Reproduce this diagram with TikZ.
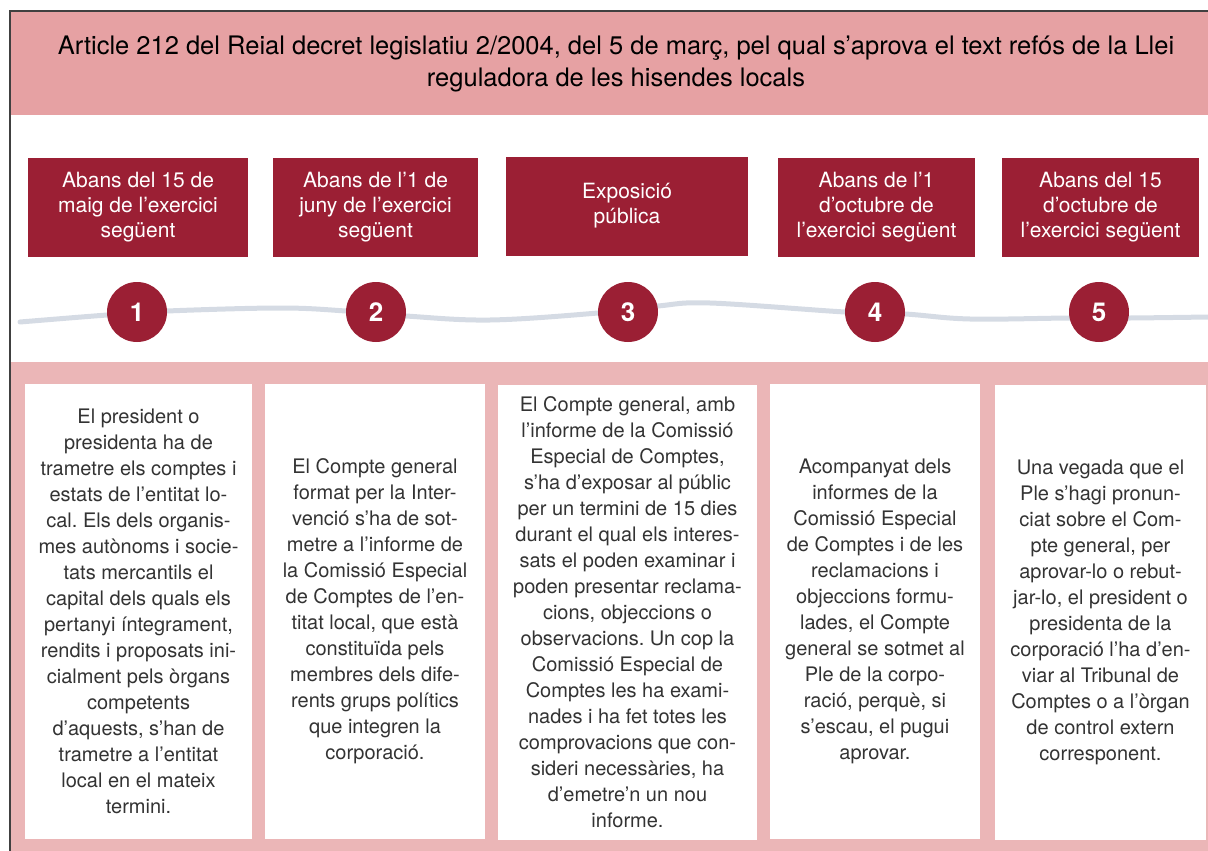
\documentclass[tikz,border=0pt]{standalone}
\usepackage{fontspec}
\setmainfont{TeX Gyre Heros}
\usepackage{tikz}
\frenchspacing
\definecolor{headpink}{HTML}{E6A1A3}
\definecolor{bandpink}{HTML}{EBB6B7}
\definecolor{wine}{HTML}{9B1F34}
\definecolor{wave}{HTML}{D5DBE4}
\definecolor{txt}{HTML}{333333}
\tikzset{
	datebox/.style={fill=wine, text=white, inner sep=0, minimum height=99, align=center, font=\fontsize{21}{25}\selectfont},
	stepdot/.style={circle, fill=wine, text=white, inner sep=0, minimum size=60, font=\fontsize{26}{26}\selectfont\bfseries},
	textbox/.style={fill=white, text=txt, inner sep=0, minimum height=455, align=center, font=\fontsize{20}{26}\selectfont}
}

\begin{document}
\begin{tikzpicture}[x=1pt, y=-1pt]
			%%%%% START %%%%%
			\useasboundingbox (0, 0) rectangle (1208, 851);
			
			\fill[headpink] (11, 12) rectangle (1208, 115);
			\fill[bandpink] (11, 362) rectangle (1208, 851);
			\draw[line width=1.5, black!75] (10, 851) -- (10, 11) -- (1208, 11);
			
			\node[align=center, font=\fontsize{25.5}{32}\selectfont] (title) at (616, 64) {Article 212 del Reial decret legislatiu 2/2004, del 5 de març, pel qual s’aprova el text refós de la Llei\\reguladora de les hisendes locals};
			
			% dates
			\node[datebox, minimum width=220] (d1) at (138, 207.5) {Abans del 15 de\\maig de l’exercici\\següent};
			\node[datebox, minimum width=205] (d2) at (375.5, 207.5) {Abans de l’1 de\\juny de l’exercici\\següent};
			\node[datebox, minimum width=242] (d3) at (627, 206) {Exposició\\pública};
			\node[datebox, minimum width=197] (d4) at (876.5, 207.5) {Abans de l’1\\d’octubre de\\l’exercici següent};
			\node[datebox, minimum width=197] (d5) at (1100.5, 207.5) {Abans del 15\\d’octubre de\\l’exercici següent};
			
			% time line
			\draw[wave, line width=5, line cap=round] plot[smooth, tension=0.6] coordinates {(20, 322) (107, 315) (167, 311) (280, 308) (346, 311) (406, 316) (490, 320) (598, 313) (658, 306) (710, 303) (845, 312) (905, 314) (970, 319) (1070, 318) (1130, 318) (1208, 317)};
			
			\node[stepdot] (c1) at (137, 312) {1};
			\node[stepdot] (c2) at (376, 312) {2};
			\node[stepdot] (c3) at (628, 312) {3};
			\node[stepdot] (c4) at (875, 312) {4};
			\node[stepdot] (c5) at (1099, 312) {5};
			
			% texts
			\node[textbox, minimum width=227] (t1) at (138.5, 611.5) {El president o\\presidenta ha de\\trametre els comptes i\\estats de l’entitat lo-\\cal. Els dels organis-\\mes autònoms i socie-\\tats mercantils el\\capital dels quals els\\pertanyi íntegrament,\\rendits i proposats ini-\\cialment pels òrgans\\competents\\d’aquests, s’han de\\trametre a l’entitat\\local en el mateix\\termini.};
			\node[textbox, minimum width=220] (t2) at (375, 611.5) {El Compte general\\format per la Inter-\\venció s’ha de sot-\\metre a l’informe de\\la Comissió Especial\\de Comptes de l’en-\\titat local, que està\\constituïda pels\\membres dels dife-\\rents grups polítics\\que integren la\\corporació.};
			\node[textbox, minimum width=259] (t3) at (627.5, 612.5) {El Compte general, amb\\l’informe de la Comissió\\Especial de Comptes,\\s’ha d’exposar al públic\\per un termini de 15 dies\\durant el qual els interes-\\sats el poden examinar i\\poden presentar reclama-\\cions, objeccions o\\observacions. Un cop la\\Comissió Especial de\\Comptes les ha exami-\\nades i ha fet totes les\\comprovacions que con-\\sideri necessàries, ha\\d’emetre’n un nou\\informe.};
			\node[textbox, minimum width=210] (t4) at (875, 611) {Acompanyat dels\\informes de la\\Comissió Especial\\de Comptes i de les\\reclamacions i\\objeccions formu-\\lades, el Compte\\general se sotmet al\\Ple de la corpo-\\ració, perquè, si\\s’escau, el pugui\\aprovar.};
			\node[textbox, minimum width=211] (t5) at (1100.5, 612) {Una vegada que el\\Ple s’hagi pronun-\\ciat sobre el Com-\\pte general, per\\aprovar-lo o rebut-\\jar-lo, el president o\\presidenta de la\\corporació l’ha d’en-\\viar al Tribunal de\\Comptes o a l’òrgan\\de control extern\\corresponent.};
			%%%%% END %%%%%
\end{tikzpicture}
\end{document}
